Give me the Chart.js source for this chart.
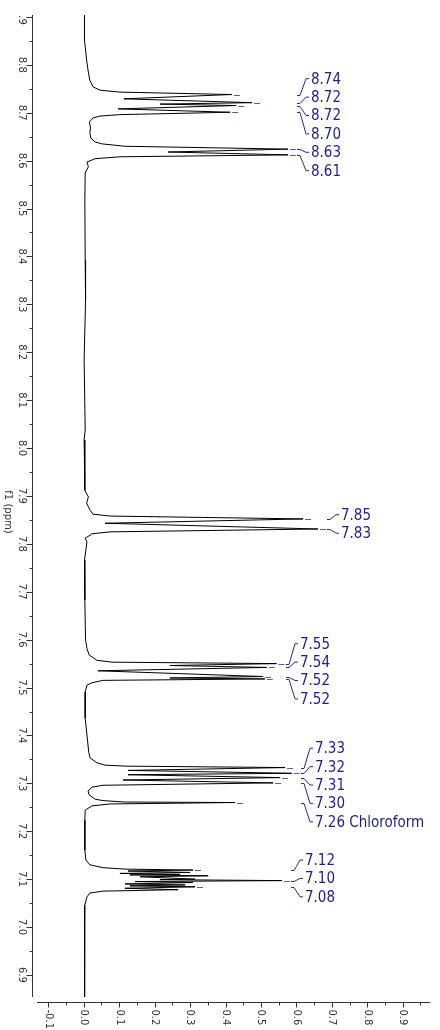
<!DOCTYPE html>
<html>
<head>
<meta charset="utf-8">
<title>1H NMR</title>
<script src="https://cdn.jsdelivr.net/npm/chart.js@4"></script>
<style>
    html, body { margin: 0; padding: 0; background: #fff; }
    canvas { display: block; }
</style>
</head>
<body>
<canvas id="nmr" width="440" height="1030"></canvas>
<script>
// spectrum trace (ppm / intensity pairs)
const shiftPpm = [
    8.904, 8.852, 8.810, 8.789, 8.768, 8.754, 8.747, 8.743, 8.738, 8.729,
    8.721, 8.718, 8.715, 8.708, 8.701, 8.696, 8.693, 8.689, 8.681, 8.668,
    8.658, 8.647, 8.639, 8.635, 8.630, 8.624, 8.618, 8.612, 8.608, 8.604,
    8.597, 8.587, 8.574, 8.518, 8.393, 8.309, 8.184, 8.038, 8.017, 7.933,
    7.912, 7.898, 7.885, 7.871, 7.862, 7.858, 7.852, 7.843, 7.831, 7.825,
    7.821, 7.818, 7.812, 7.804, 7.766, 7.683, 7.599, 7.582, 7.568, 7.557,
    7.553, 7.550, 7.546, 7.542, 7.535, 7.523, 7.520, 7.518, 7.515, 7.510,
    7.505, 7.491, 7.436, 7.401, 7.365, 7.353, 7.343, 7.338, 7.336, 7.333,
    7.327, 7.321, 7.318, 7.312, 7.307, 7.301, 7.296, 7.292, 7.284, 7.276,
    7.267, 7.264, 7.261, 7.260, 7.257, 7.253, 7.244, 7.223, 7.161, 7.140,
    7.130, 7.124, 7.121, 7.119, 7.117, 7.114, 7.112, 7.110, 7.109, 7.107,
    7.105, 7.100, 7.099, 7.097, 7.095, 7.093, 7.090, 7.088, 7.086, 7.084,
    7.081, 7.078, 7.075, 7.071, 7.063, 7.046, 6.994, 6.931, 6.854
];
const intensity = [
    0.002, 0.002, 0.008, 0.012, 0.017, 0.026, 0.046, 0.102, 0.418, 0.113,
    0.475, 0.215, 0.430, 0.097, 0.413, 0.102, 0.046, 0.026, 0.016, 0.019,
    0.017, 0.020, 0.032, 0.051, 0.116, 0.576, 0.238, 0.576, 0.102, 0.032,
    0.009, 0.013, 0.004, 0.003, 0.004, 0.005, 0.001, 0.004, 0.001, 0.003,
    0.003, 0.013, 0.008, 0.017, 0.026, 0.074, 0.619, 0.060, 0.661, 0.074,
    0.023, 0.018, 0.004, 0.009, 0.002, 0.003, 0.005, 0.009, 0.015, 0.037,
    0.080, 0.544, 0.243, 0.516, 0.040, 0.506, 0.243, 0.511, 0.054, 0.023,
    0.009, 0.004, 0.004, 0.009, 0.014, 0.018, 0.037, 0.060, 0.116, 0.568,
    0.125, 0.587, 0.125, 0.554, 0.111, 0.534, 0.054, 0.023, 0.012, 0.015,
    0.032, 0.054, 0.116, 0.427, 0.074, 0.023, 0.004, 0.003, 0.003, 0.006,
    0.017, 0.054, 0.116, 0.308, 0.125, 0.300, 0.102, 0.271, 0.130, 0.351,
    0.159, 0.314, 0.215, 0.559, 0.145, 0.308, 0.116, 0.286, 0.130, 0.314,
    0.116, 0.266, 0.054, 0.017, 0.009, 0.003, 0.002, 0.003, 0.002
];

// picked peaks
const pickPpm = [8.738, 8.721, 8.715, 8.701, 8.624, 8.612, 7.852, 7.831, 7.550, 7.542,
    7.523, 7.518, 7.333, 7.321, 7.312, 7.301, 7.260, 7.119, 7.097, 7.084];
const pickHeight = [0.418, 0.475, 0.430, 0.413, 0.576, 0.576, 0.619, 0.661, 0.544, 0.516,
    0.506, 0.511, 0.568, 0.587, 0.554, 0.534, 0.427, 0.308, 0.559, 0.314];
const pickLabels = ['8.74', '8.72', '8.72', '8.70', '8.63', '8.61', '7.85', '7.83', '7.55', '7.54',
    '7.52', '7.52', '7.33', '7.32', '7.31', '7.30', '7.26 Chloroform', '7.12', '7.10', '7.08'];
const pickGroup = [0, 0, 0, 0, 0, 0, 1, 1, 2, 2, 2, 2, 3, 3, 3, 3, 3, 4, 4, 4];

// axis ticks
const ppmTicks = [6.9, 7.0, 7.1, 7.2, 7.3, 7.4, 7.5, 7.6, 7.7, 7.8, 7.9, 8.0, 8.1, 8.2, 8.3, 8.4, 8.5, 8.6, 8.7, 8.8, 8.9];
const intensityTicks = [-0.1, 0.0, 0.1, 0.2, 0.3, 0.4, 0.5, 0.6, 0.7, 0.8, 0.9];
const axisTitle = 'f1 (ppm)';

const tickFont = '10px "DejaVu Sans"';
const pickFont = '15px "DejaVu Sans Condensed", "DejaVu Sans"';

let points = shiftPpm.map(function(p, i) {
    return { x: intensity[i], y: p };
});

// axes drawn by hand: rotated labels, minor ticks, detached lines
const axesPlugin = {
    id: 'nmrAxes',
    afterDraw: function(chart) {
        let ctx = chart.ctx;
        let xs = chart.scales.x, ys = chart.scales.y;
        let area = chart.chartArea;
        let axX = area.left - 5 + 0.5;
        let axY = area.bottom + 5 + 0.5;

        ctx.save();
        ctx.strokeStyle = '#333';
        ctx.lineWidth = 1;
        ctx.beginPath();
        ctx.moveTo(axX, area.top);
        ctx.lineTo(axX, area.bottom);
        ctx.moveTo(area.left, axY);
        ctx.lineTo(area.right, axY);

        // ppm ticks + minor ones halfway
        let ppmStep = ppmTicks[1] - ppmTicks[0];
        ppmTicks.forEach(function(t) {
            let y = Math.round(ys.getPixelForValue(t)) + 0.5;
            ctx.moveTo(axX - 6, y);
            ctx.lineTo(axX, y);
            let m = t + ppmStep / 2;
            if (m <= ys.max) {
                let ym = Math.round(ys.getPixelForValue(m)) + 0.5;
                ctx.moveTo(axX - 3, ym);
                ctx.lineTo(axX, ym);
            }
        });
        let intStep = intensityTicks[1] - intensityTicks[0];
        intensityTicks.forEach(function(t) {
            let x = Math.round(xs.getPixelForValue(t)) + 0.5;
            ctx.moveTo(x, axY);
            ctx.lineTo(x, axY + 5);
            let m = t + intStep / 2;
            if (m <= xs.max) {
                let xm = Math.round(xs.getPixelForValue(m)) + 0.5;
                ctx.moveTo(xm, axY);
                ctx.lineTo(xm, axY + 3);
            }
        });
        ctx.stroke();

        ctx.fillStyle = '#333';
        ctx.font = tickFont;

        // left labels, clipped at the top of the frame
        ctx.save();
        ctx.beginPath();
        ctx.rect(0, area.top + 1, area.left, area.bottom - area.top);
        ctx.clip();
        ppmTicks.forEach(function(t) {
            let y = ys.getPixelForValue(t);
            ctx.save();
            ctx.translate(axX - 11, y);
            ctx.rotate(Math.PI / 2);
            ctx.textAlign = 'center';
            ctx.textBaseline = 'middle';
            ctx.fillText(t.toFixed(1), 0, 0);
            ctx.restore();
        });
        ctx.restore();

        intensityTicks.forEach(function(t) {
            let x = xs.getPixelForValue(t);
            ctx.save();
            ctx.translate(x, axY + 7);
            ctx.rotate(Math.PI / 2);
            ctx.textAlign = 'left';
            ctx.textBaseline = 'middle';
            ctx.fillText(t.toFixed(1).replace('-0.0', '0.0'), 0, 0);
            ctx.restore();
        });

        // axis title
        ctx.save();
        ctx.translate(8, (area.top + area.bottom) / 2 + 6);
        ctx.rotate(Math.PI / 2);
        ctx.textAlign = 'center';
        ctx.textBaseline = 'middle';
        ctx.font = '10px "DejaVu Sans"';
        ctx.fillText(axisTitle, 0, 0);
        ctx.restore();

        ctx.restore();
    }
};

// peak picks: tick at each tip, stacked labels with bent connectors
const pickPlugin = {
    id: 'nmrPicks',
    afterDraw: function(chart) {
        let ctx = chart.ctx;
        let xs = chart.scales.x, ys = chart.scales.y;
        let groups = {};
        pickPpm.forEach(function(p, i) {
            let g = pickGroup[i];
            if (!groups[g]) groups[g] = [];
            groups[g].push(i);
        });

        ctx.save();
        ctx.lineWidth = 1;
        Object.keys(groups).forEach(function(g) {
            let idx = groups[g];
            let py = idx.map(function(i) { return ys.getPixelForValue(pickPpm[i]); });
            let px = idx.map(function(i) { return xs.getPixelForValue(pickHeight[i]); });
            let maxX = Math.max.apply(null, px);
            let labelX = Math.round(maxX + 23);
            let mid = (Math.min.apply(null, py) + Math.max.apply(null, py)) / 2;
            let gap = 18.4;
            let first = mid - gap * (idx.length - 1) / 2;

            idx.forEach(function(i, k) {
                let y = Math.round(py[k]) + 0.5;
                let ly = first + gap * k;

                ctx.strokeStyle = '#5a5ab8';
                ctx.beginPath();
                ctx.moveTo(px[k] + 2, y);
                ctx.lineTo(px[k] + 8, y);
                ctx.stroke();

                ctx.strokeStyle = '#2a2a90';
                ctx.beginPath();
                ctx.moveTo(labelX - 14, y);
                ctx.lineTo(labelX - 11, y);
                ctx.lineTo(labelX - 5, ly);
                ctx.lineTo(labelX - 2, ly);
                ctx.stroke();

                ctx.fillStyle = '#1f1f8c';
                ctx.font = pickFont;
                ctx.textAlign = 'left';
                ctx.textBaseline = 'middle';
                ctx.fillText(pickLabels[i], labelX, ly + 1);
            });
        });
        ctx.restore();
    }
};

document.addEventListener('DOMContentLoaded', function() {
    let ctx = document.getElementById('nmr').getContext('2d');
    let chart = new Chart(ctx, {
        type: 'scatter',
        data: {
            datasets: [{
                data: points,
                showLine: true,
                borderColor: '#000',
                borderWidth: 1,
                pointRadius: 0,
                tension: 0
            }]
        },
        options: {
            responsive: false,
            animation: false,
            events: [],
            layout: {
                padding: { left: 37, right: 10, top: 15, bottom: 33 }
            },
            plugins: {
                legend: { display: false },
                tooltip: { enabled: false }
            },
            scales: {
                x: { type: 'linear', min: -0.132, max: 0.977, display: false },
                y: { type: 'linear', min: 6.854, max: 8.904, display: false }
            }
        },
        plugins: [axesPlugin, pickPlugin]
    });
});
</script>
</body>
</html>
